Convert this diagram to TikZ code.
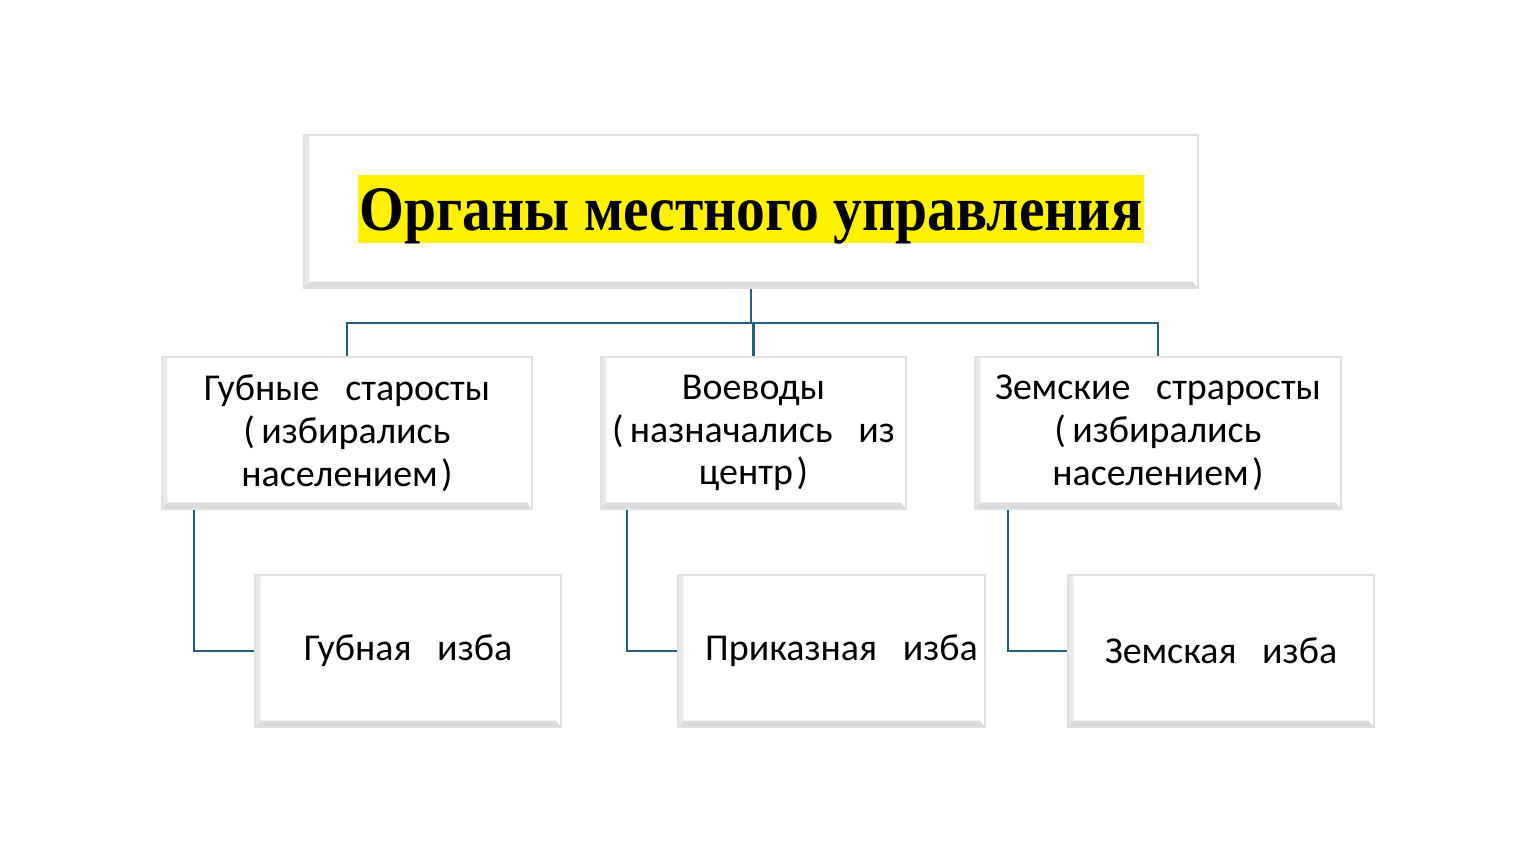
\documentclass[tikz,border=0pt]{standalone}
\usepackage{fontspec}
\setmainfont{Carlito}
\newfontfamily\titlefont{Liberation Serif}
\usetikzlibrary{calc}
\definecolor{linkblue}{RGB}{36,96,134}
\tikzset{
  bevelbox/.style={draw=black!12, fill=white, line width=0.4pt, inner sep=1pt,
    minimum height=1.52cm, align=center, font=\fontsize{10.8}{12.2}\selectfont,
    path picture={
      \fill[black!14] (path picture bounding box.south west) -- (path picture bounding box.south east)
        -- ([shift={(-1.5pt,1.8pt)}]path picture bounding box.south east)
        -- ([shift={(1.5pt,1.8pt)}]path picture bounding box.south west) -- cycle;
      \fill[black!9] (path picture bounding box.south west) -- ([shift={(1.5pt,1.8pt)}]path picture bounding box.south west)
        -- ([shift={(1.5pt,-0.6pt)}]path picture bounding box.north west) -- (path picture bounding box.north west) -- cycle;
    }},
  link/.style={draw=linkblue, line width=0.6pt}
}

\begin{document}
\begin{tikzpicture}
    \useasboundingbox (0,0) rectangle (15.33,8.64);

    % top box
    \node [bevelbox, minimum width=8.94cm, minimum height=1.53cm] (title) at (7.51,6.525) {};
    \node [fill=yellow, inner xsep=0.5pt, inner ysep=0pt, text height=0.55cm, text depth=0.13cm,
           font=\titlefont\bfseries\fontsize{16.4}{20}\selectfont] (titlelabel) at ([yshift=0.02cm]title.center)
          {\scalebox{1}[1.1]{Органы местного управления}};

    % second row
    \node [bevelbox, minimum width=3.70cm] (gub) at (3.47,4.31)
          {Губные \ \ старосты\\(\,избирались\\населением\kern1pt)};
    \node [bevelbox, minimum width=3.05cm] (voev) at (7.535,4.31)
          {Воеводы\\(\,назначались \ \ из\\центр\kern1pt)};
    \node [bevelbox, minimum width=3.66cm] (zem) at (11.58,4.31)
          {Земские \ \ страросты\\(\,избирались\\населением\kern1pt)};

    % third row
    \node [bevelbox, minimum width=3.06cm] (gubizba) at (4.08,2.13) {Губная \ \ изба};
    \node [bevelbox, minimum width=3.07cm] (prikaz) at (8.315,2.13) {\hspace{0.2cm}Приказная \ \ изба};
    \node [bevelbox, minimum width=3.06cm] (zemizba) at (12.21,2.13) {Земская \ \ изба};

    % connectors
    \coordinate (bus) at ([yshift=-0.34cm]title.south);
    \draw [link] (title.south) -- (bus);
    \draw [link] (gub.north) |- (bus) -| (zem.north);
    \draw [link] (bus) -| (voev.north);

    \draw [link] ([xshift=0.33cm]gub.south west) |- (gubizba.west);
    \draw [link] ([xshift=0.27cm]voev.south west) |- (prikaz.west);
    \draw [link] ([xshift=0.34cm]zem.south west) |- (zemizba.west);
\end{tikzpicture}
\end{document}
